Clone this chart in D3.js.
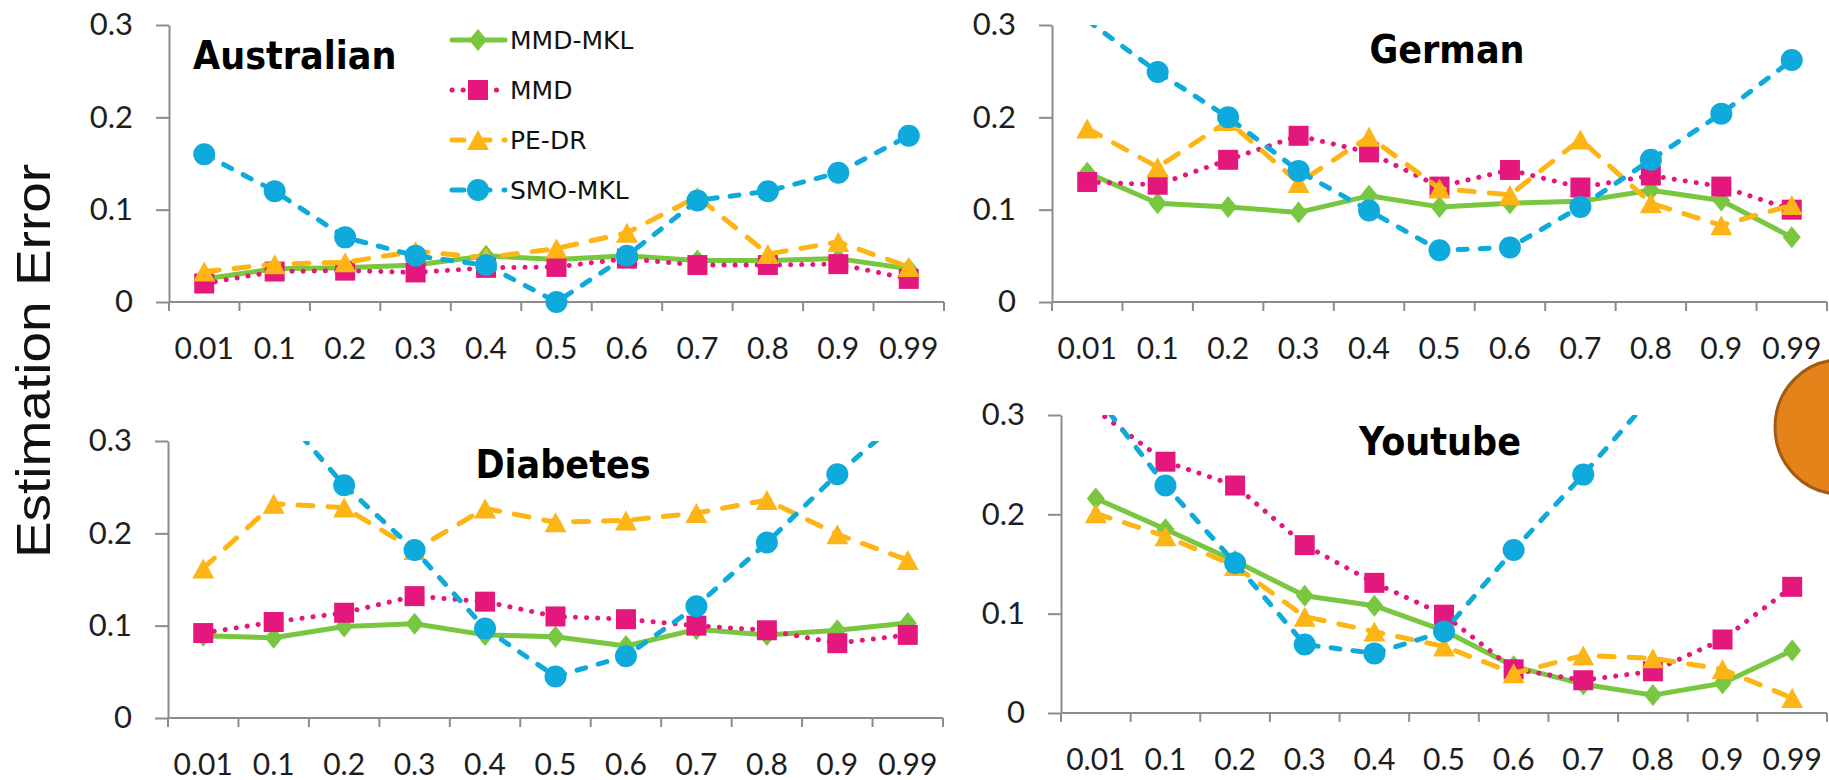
<!DOCTYPE html>
<html>
<head>
<meta charset="utf-8">
<script src="https://cdn.jsdelivr.net/npm/d3@7"></script>
<style>
    body { margin: 0; background: #ffffff; }
    svg { display: block; }
</style>
</head>
<body>
<svg id="chart_root" width="1829" height="780"></svg>
<script>
// Categories on the x axis, shared by the four panels
var categories = ['0.01', '0.1', '0.2', '0.3', '0.4', '0.5', '0.6', '0.7', '0.8', '0.9', '0.99'];
var yTickValues = [0, 0.1, 0.2, 0.3];
var yTickLabels = ['0', '0.1', '0.2', '0.3'];
var seriesNames = ['MMD-MKL', 'MMD', 'PE-DR', 'SMO-MKL'];
var panelTitles = ['Australian', 'German', 'Diabetes', 'Youtube'];
var yAxisTitle = 'Estimation Error';

// Australian
var australianMmdMkl = [0.025, 0.036, 0.037, 0.040, 0.050, 0.046, 0.050, 0.045, 0.045, 0.047, 0.036];
var australianMmd    = [0.020, 0.033, 0.034, 0.032, 0.037, 0.038, 0.047, 0.040, 0.040, 0.041, 0.025];
var australianPeDr   = [0.033, 0.041, 0.043, 0.055, 0.048, 0.058, 0.075, 0.114, 0.052, 0.065, 0.038];
var australianSmoMkl = [0.160, 0.120, 0.070, 0.050, 0.040, 0.000, 0.050, 0.110, 0.120, 0.140, 0.180];

// German
var germanMmdMkl = [0.140, 0.107, 0.103, 0.097, 0.115, 0.103, 0.107, 0.109, 0.121, 0.110, 0.070];
var germanMmd    = [0.130, 0.127, 0.154, 0.180, 0.162, 0.125, 0.143, 0.124, 0.137, 0.125, 0.100];
var germanPeDr   = [0.188, 0.146, 0.196, 0.129, 0.179, 0.123, 0.116, 0.176, 0.107, 0.083, 0.105];
var germanSmoMkl = [0.305, 0.249, 0.200, 0.142, 0.099, 0.056, 0.059, 0.103, 0.154, 0.204, 0.262];

// Diabetes
var diabetesMmdMkl = [0.089, 0.087, 0.099, 0.102, 0.090, 0.088, 0.078, 0.096, 0.090, 0.095, 0.103];
var diabetesMmd    = [0.092, 0.104, 0.114, 0.132, 0.126, 0.110, 0.107, 0.100, 0.095, 0.081, 0.090];
var diabetesPeDr   = [0.162, 0.232, 0.228, 0.182, 0.227, 0.212, 0.214, 0.222, 0.236, 0.199, 0.171];
var diabetesSmoMkl = [0.400, 0.340, 0.252, 0.182, 0.097, 0.045, 0.067, 0.121, 0.190, 0.264, 0.330];

// Youtube
var youtubeMmdMkl = [0.216, 0.185, 0.153, 0.118, 0.108, 0.083, 0.047, 0.029, 0.018, 0.030, 0.063];
var youtubeMmd    = [0.305, 0.253, 0.229, 0.169, 0.131, 0.099, 0.044, 0.033, 0.042, 0.074, 0.127];
var youtubePeDr   = [0.201, 0.178, 0.148, 0.097, 0.082, 0.067, 0.040, 0.058, 0.055, 0.044, 0.015];
var youtubeSmoMkl = [0.320, 0.229, 0.151, 0.069, 0.060, 0.082, 0.164, 0.240, 0.320, 0.400, 0.480];

// Look of each series, same order as seriesNames
var seriesStyles = [
    {colour: '#79c640', dash: null,      legendDash: null,     marker: 'diamond'},
    {colour: '#e4177c', dash: '0.1 11',  legendDash: '0.1 11', marker: 'square'},
    {colour: '#fdb515', dash: '15 15',   legendDash: '12 14',  marker: 'triangle'},
    {colour: '#0eaadc', dash: '9 13',    legendDash: '12 14',  marker: 'circle'}
];

var markerPaths = {
    diamond: 'M0,-11L9,0L0,11L-9,0Z',
    square: 'M-10,-10h20v20h-20Z',
    triangle: 'M0,-10L11,10L-11,10Z',
    circle: 'M-11,0a11,11 0 1,0 22,0a11,11 0 1,0 -22,0'
};

// Where each panel sits on the page
var panels = [
    {title: panelTitles[0], series: [australianMmdMkl, australianMmd, australianPeDr, australianSmoMkl],
     left: 169, right: 944, top: 25, bottom: 302, titleX: 193, titleY: 69, titleAnchor: 'start', legend: true},
    {title: panelTitles[1], series: [germanMmdMkl, germanMmd, germanPeDr, germanSmoMkl],
     left: 1052, right: 1827, top: 25, bottom: 302, titleX: 1447, titleY: 63, titleAnchor: 'middle', legend: false},
    {title: panelTitles[2], series: [diabetesMmdMkl, diabetesMmd, diabetesPeDr, diabetesSmoMkl],
     left: 168, right: 943, top: 441, bottom: 718, titleX: 563, titleY: 478, titleAnchor: 'middle', legend: false},
    {title: panelTitles[3], series: [youtubeMmdMkl, youtubeMmd, youtubePeDr, youtubeSmoMkl],
     left: 1061, right: 1827, top: 415, bottom: 713, titleX: 1440, titleY: 455, titleAnchor: 'middle', legend: false}
];

var axisColour = '#8c8c8c';
var tickFont = 'Lato, "DejaVu Sans", sans-serif';

var svg = d3.select('#chart_root');
var defs = svg.append('defs');

// Draw one panel
function plot_panel(panel, panelIndex)
{
    var x = d3.scaleBand()
        .domain(categories)
        .range([panel.left, panel.right])
        .padding(0);
    var y = d3.scaleLinear()
        .domain([0, 0.3])
        .range([panel.bottom, panel.top]);

    var g = svg.append('g').attr('class', 'panel');

    // y axis
    var yAxis = g.append('g')
        .attr('class', 'y-axis')
        .attr('transform', 'translate(' + panel.left + ',0)')
        .call(d3.axisLeft(y)
            .tickValues(yTickValues)
            .tickFormat(function(d, i) { return yTickLabels[i]; })
            .tickSize(13)
            .tickSizeOuter(0)
            .tickPadding(23));
    yAxis.select('.domain').attr('stroke', axisColour).attr('stroke-width', 2);
    yAxis.selectAll('.tick line').attr('stroke', axisColour).attr('stroke-width', 2);
    yAxis.selectAll('.tick text')
        .attr('fill', '#1e1e1e')
        .style('font-family', tickFont)
        .style('font-size', '31px');

    // x axis, ticks between the categories
    var xAxis = g.append('g').attr('class', 'x-axis');
    xAxis.append('line')
        .attr('x1', panel.left).attr('x2', x.range()[1])
        .attr('y1', y(0)).attr('y2', y(0))
        .attr('stroke', axisColour).attr('stroke-width', 2);
    var edges = categories.map(function(c) { return x(c); }).concat([x.range()[1]]);
    xAxis.selectAll('.edge-tick')
        .data(edges)
        .enter().append('line')
        .attr('class', 'edge-tick')
        .attr('x1', function(d) { return d; }).attr('x2', function(d) { return d; })
        .attr('y1', y(0)).attr('y2', y(0) + 9)
        .attr('stroke', axisColour).attr('stroke-width', 2);
    xAxis.selectAll('.cat-label')
        .data(categories)
        .enter().append('text')
        .attr('class', 'cat-label')
        .attr('x', function(d) { return x(d) + x.bandwidth() / 2; })
        .attr('y', y(0) + 46)
        .attr('dy', '0.35em')
        .attr('text-anchor', 'middle')
        .attr('fill', '#1e1e1e')
        .style('font-family', tickFont)
        .style('font-size', '30px')
        .text(function(d) { return d; });

    // lines are clipped at the top of the plot area, like the original
    var clipId = 'clip_' + panelIndex;
    defs.append('clipPath').attr('id', clipId)
        .append('rect')
        .attr('x', panel.left - 40).attr('y', y(0.3))
        .attr('width', panel.right - panel.left + 80)
        .attr('height', y(0) - y(0.3) + 40);

    var line = d3.line()
        .x(function(d, i) { return x(categories[i]) + x.bandwidth() / 2; })
        .y(function(d) { return y(d); });

    panel.series.forEach(function(values, s)
    {
        var style = seriesStyles[s];
        var sg = g.append('g').attr('class', 'series s' + s);
        sg.append('path')
            .attr('clip-path', 'url(#' + clipId + ')')
            .attr('d', line(values))
            .attr('fill', 'none')
            .attr('stroke', style.colour)
            .attr('stroke-width', 5)
            .attr('stroke-linecap', 'round')
            .attr('stroke-linejoin', 'round')
            .attr('stroke-dasharray', style.dash);
        // markers above the axis maximum are not shown
        sg.selectAll('.marker')
            .data(values.map(function(v, i) { return {v: v, c: categories[i]}; })
                        .filter(function(d) { return d.v <= 0.3; }))
            .enter().append('path')
            .attr('class', 'marker')
            .attr('transform', function(d) { return 'translate(' + (x(d.c) + x.bandwidth() / 2) + ',' + y(d.v) + ')'; })
            .attr('d', markerPaths[style.marker])
            .attr('fill', style.colour);
    });

    // panel title
    g.append('text')
        .attr('transform', 'translate(' + panel.titleX + ',' + panel.titleY + ') scale(0.9,1)')
        .attr('text-anchor', panel.titleAnchor)
        .attr('fill', '#000')
        .style('font-family', '"DejaVu Sans", sans-serif')
        .style('font-weight', 'bold')
        .style('font-size', '39px')
        .text(panel.title);

    if (panel.legend)
    {
        plot_legend();
    }
}

function plot_legend()
{
    var rows = svg.append('g').attr('class', 'legend')
        .selectAll('g')
        .data(seriesNames)
        .enter().append('g')
        .attr('transform', function(d, i) { return 'translate(450,' + (40 + i * 50) + ')'; });
    rows.append('line')
        .attr('x1', 2).attr('x2', 55)
        .attr('stroke', function(d, i) { return seriesStyles[i].colour; })
        .attr('stroke-width', 5)
        .attr('stroke-linecap', 'round')
        .attr('stroke-dasharray', function(d, i) { return seriesStyles[i].legendDash; });
    rows.append('path')
        .attr('transform', 'translate(28,0)')
        .attr('d', function(d, i) { return markerPaths[seriesStyles[i].marker]; })
        .attr('fill', function(d, i) { return seriesStyles[i].colour; });
    rows.append('text')
        .attr('x', 60)
        .attr('dy', '0.36em')
        .attr('fill', '#111')
        .style('font-family', '"DejaVu Sans", sans-serif')
        .style('font-size', '25px')
        .text(function(d) { return d; });
}

panels.forEach(plot_panel);

// shared y axis title
svg.append('text')
    .attr('transform', 'translate(33,361) rotate(-90) scale(1,0.88)')
    .attr('text-anchor', 'middle')
    .attr('dy', '0.35em')
    .attr('fill', '#111')
    .style('font-family', '"Liberation Sans", Arial, sans-serif')
    .style('font-size', '55px')
    .text(yAxisTitle);

// orange shape cut by the right edge
svg.append('ellipse')
    .attr('cx', 1840).attr('cy', 427)
    .attr('rx', 65).attr('ry', 67)
    .attr('fill', '#e3831a')
    .attr('stroke', '#a25c12')
    .attr('stroke-width', 3);
</script>
</body>
</html>
